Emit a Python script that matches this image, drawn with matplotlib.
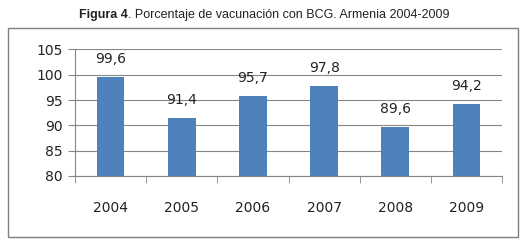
import matplotlib.pyplot as plt
from matplotlib.patches import Rectangle

# data
years = ["2004", "2005", "2006", "2007", "2008", "2009"]
values = [99.6, 91.4, 95.7, 97.8, 89.6, 94.2]
labels = ["99,6", "91,4", "95,7", "97,8", "89,6", "94,2"]
yticks = [80, 85, 90, 95, 100, 105]

fig = plt.figure(figsize=(5.28, 2.41), dpi=100)
ax = fig.add_axes([0.142, 0.270, 0.809, 0.525])

x = range(len(years))
ax.bar(x, values, width=0.39, bottom=0, color="#4F81BD", zorder=3)
ax.set_ylim(80, 105)
ax.set_xlim(-0.5, len(years) - 0.5)
ax.set_yticks(yticks)
ax.set_yticklabels([str(t) for t in yticks], fontsize=10, color="#222222")
ax.set_xticks(list(x))
ax.set_xticklabels(years, fontsize=10, color="#222222")
ax.tick_params(axis="x", length=0, pad=18)
ax.tick_params(axis="y", length=5, color="#868686", pad=4)
# minor ticks between categories on the x axis
ax.set_xticks([i + 0.5 for i in range(len(years) - 1)] + [-0.5, len(years) - 0.5], minor=True)
ax.tick_params(axis="x", which="minor", length=5, color="#868686")

ax.grid(axis="y", color="#868686", linewidth=0.8, zorder=0)
for side in ["top", "right"]:
    ax.spines[side].set_visible(False)
ax.spines["left"].set_color("#868686")
ax.spines["bottom"].set_color("#868686")

for xi, v, lab in zip(x, values, labels):
    ax.annotate(lab, (xi, v), xytext=(0, 8), textcoords="offset points",
                ha="center", va="bottom", fontsize=10, color="#222222")

# border around chart
fig.patches.append(Rectangle((8 / 528, 1 - 237 / 241), 510 / 528, 209 / 241,
                             transform=fig.transFigure, fill=False,
                             edgecolor="#7f7f7f", linewidth=1.0))

# title: bold part + normal part
fig.canvas.draw()
r = fig.canvas.get_renderer()
t1 = fig.text(0, 0.938, "Figura 4", fontsize=9, fontweight="bold",
              family="Liberation Sans", va="center", color="#222222")
t2 = fig.text(0, 0.938, ". Porcentaje de vacunación con BCG. Armenia 2004-2009",
              fontsize=9, family="Liberation Sans", va="center", color="#222222")
w1 = t1.get_window_extent(r).width / 528
w2 = t2.get_window_extent(r).width / 528
start = 0.5 - (w1 + w2) / 2
t1.set_x(start)
t2.set_x(start + w1)

fig.savefig("out.png", dpi=100)
